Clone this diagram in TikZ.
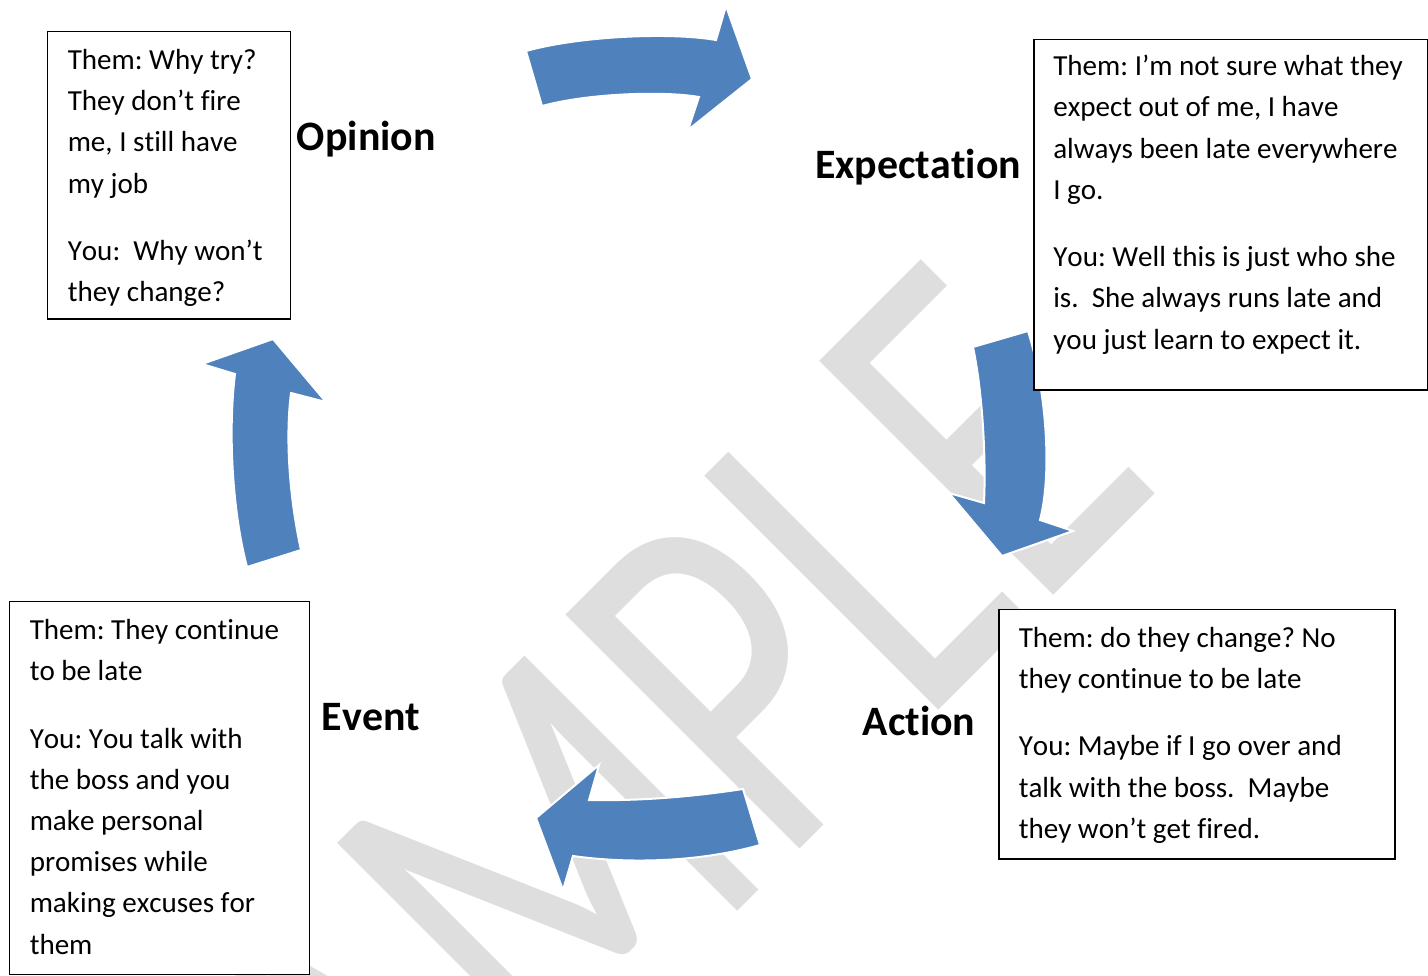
\documentclass[tikz,border=0pt]{standalone}
\usepackage{fontspec}
\setmainfont{Carlito}[Ligatures={NoCommon}, Kerning=Off]
\newfontfamily\wmfont{Carlito}[Ligatures={NoCommon}]
\definecolor{arrowblue}{RGB}{79,129,189}
\definecolor{wmgray}{RGB}{222,222,222}
\frenchspacing
\tikzset{
  wm/.style={font=\wmfont\fontsize{287.25pt}{300pt}\selectfont, text=wmgray, inner sep=0pt},
  box/.style={draw=black, fill=white, line width=1pt, inner sep=0pt, anchor=north west},
  txt/.style={font=\fontsize{21.8pt}{30.9pt}\selectfont, inner sep=0pt, anchor=base west},
  lbl/.style={font=\bfseries\fontsize{31.4pt}{36pt}\selectfont, inner sep=0pt, anchor=base west},
  blockarrow/.style={fill=arrowblue, draw=white, line width=1.5pt, line join=miter}
}
\begin{document}
\begin{tikzpicture}[x=0.75pt,y=-0.75pt]
\fill[white] (0,0) rectangle (1428,975);
\useasboundingbox (0,0) rectangle (1428,975);
\clip (0,0) rectangle (1428,975);
% watermark
\begin{scope}[shift={(270,1379)}]
  \node[wm, rotate=45, yscale=1.347, transform shape, anchor=base west] (mark) at (0,0) {SAMPLE};
\end{scope}
% arrows
\path[blockarrow] (526,51) .. controls (580,36) and (670,32) .. (716,40) -- (726,6) -- (752,79) -- (688,130) -- (699,97) .. controls (665,91) and (590,93) .. (542,106) -- cycle;
\path[blockarrow] (973,347) -- (1028,331) .. controls (1045,385) and (1053,470) .. (1040,520) -- (1073,531) -- (1002,556) -- (949,493) -- (984,503) .. controls (986,460) and (983,395) .. cycle;
\path[blockarrow] (743,789) .. controls (690,797) and (640,801) .. (589,800) -- (599,765) -- (536,818) -- (563,890) -- (573,856) .. controls (630,864) and (700,862) .. (760,845) -- cycle;
\path[blockarrow] (247,567) -- (301,550) .. controls (290,500) and (285,440) .. (291,393) -- (326,402) -- (273,339) -- (202,364) -- (235,374) .. controls (228,430) and (232,510) .. cycle;
% boxes
\node[box, minimum width=182.5pt, minimum height=215.7pt] (opbox) at (46.7,30.7) {};
\node[box, minimum width=295pt, minimum height=262.7pt] (exbox) at (1033.3,39) {};
\node[box, minimum width=297pt, minimum height=187pt] (acbox) at (998.2,609) {};
\node[box, minimum width=225pt, minimum height=279.75pt] (evbox) at (9,601) {};
% box texts
\node[txt] (optxt) at (67.5,69.5) {\begin{tabular}[t]{@{}l@{}}Them: Why try?\\They don’t fire\\me, I still have\\my job\\[19.6pt]You:\ \ Why won’t\\they change?\end{tabular}};
\node[txt] (extxt) at (1053,75.7) {\begin{tabular}[t]{@{}l@{}}Them: I’m not sure what they\\expect out of me, I have\\always been late everywhere\\I go.\\[19.6pt]You: Well this is just who she\\is.\ \ She always runs late and\\you just learn to expect it.\end{tabular}};
\node[txt] (actxt) at (1018.5,647.3) {\begin{tabular}[t]{@{}l@{}}Them: do they change? No\\they continue to be late\\[19.6pt]You: Maybe if I go over and\\talk with the boss.\ \ Maybe\\they won’t get fired.\end{tabular}};
\node[txt] (evtxt) at (29.5,639.5) {\begin{tabular}[t]{@{}l@{}}Them: They continue\\to be late\\[19.6pt]You: You talk with\\the boss and you\\make personal\\promises while\\making excuses for\\them\end{tabular}};
% labels
\node[lbl] (oplbl) at (296.7,150) {Opinion};
\node[lbl] (exlbl) at (815,178) {Expectation};
\node[lbl] (evlbl) at (321.5,730) {Event};
\node[lbl] (aclbl) at (862.5,735) {Action};
\end{tikzpicture}
\end{document}
